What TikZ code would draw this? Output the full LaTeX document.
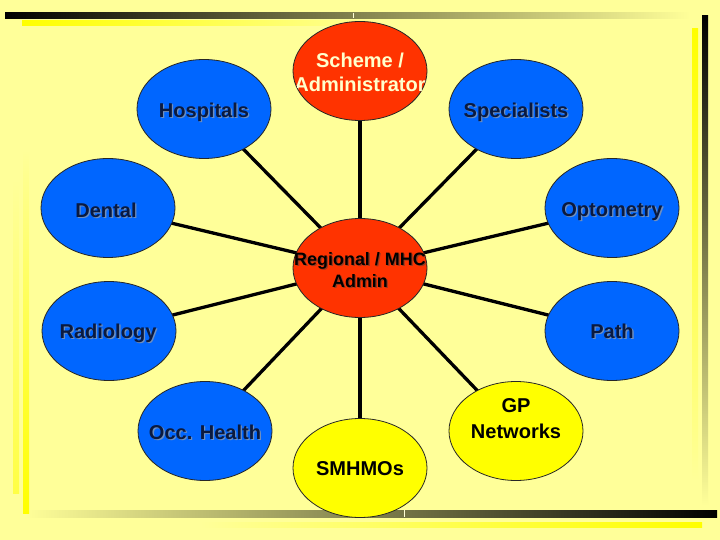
\documentclass[tikz,border=0pt]{standalone}
\usepackage{fontspec}
\setmainfont{Liberation Sans}
\usetikzlibrary{shapes.geometric,backgrounds}
\definecolor{bg}{HTML}{FFFF99}
\definecolor{myblue}{HTML}{0066FF}
\definecolor{myred}{HTML}{FF3300}
\definecolor{myyellow}{HTML}{FFFF00}
\definecolor{navy}{HTML}{0A1A40}
\definecolor{blueshadow}{HTML}{6F8FBF}
\definecolor{redshadow}{HTML}{9A3A20}
\definecolor{cream}{HTML}{FFFFCC}
\newcommand\shad[2]{\leavevmode\rlap{\kern1.3bp\raisebox{-1.3bp}{\color{#1}#2}}#2}
\tikzset{
  bubble/.style={ellipse, draw=black!85, line width=0.8bp, minimum width=134bp, minimum height=99bp, inner sep=0pt},
  bluebub/.style={bubble, fill=myblue},
  redbub/.style={bubble, fill=myred},
  yelbub/.style={bubble, fill=myyellow},
  lbl/.style={font=\bfseries\fontsize{20.1}{25}\selectfont, inner sep=0pt, anchor=base},
  bluelbl/.style={lbl, text=navy},
  smalllbl/.style={font=\bfseries\fontsize{18}{22}\selectfont, inner sep=0pt, anchor=base, text=black},
  spoke/.style={line width=3.3bp, black},
}
\begin{document}
\begin{tikzpicture}[x=1bp,y=-1bp]
\useasboundingbox (0,0) rectangle (720,540);
% bubbles
\node[redbub] (scheme) at (360,71) {};
\node[bluebub] (hosp) at (204,109) {};
\node[bluebub] (spec) at (516,109) {};
\node[bluebub] (dental) at (108,208) {};
\node[bluebub] (opto) at (612,208) {};
\node[redbub] (reg) at (360,268) {};
\node[bluebub] (radio) at (109,331) {};
\node[bluebub] (path) at (612,331) {};
\node[bluebub] (occ) at (205,431) {};
\node[yelbub] (gp) at (516,431) {};
\node[yelbub] (smh) at (360,468) {};
% texts
\begin{scope}
  \clip (360,71) ellipse [x radius=66.6, y radius=49.1];
  \node[lbl, text=cream] (schemeA) at (360,67.2) {Scheme /};
  \node[lbl, text=cream] (schemeB) at (360,91.2) {Administrator};
\end{scope}
\node[bluelbl] (hospT) at (204,117.2) {\shad{blueshadow}{Hospitals}};
\node[bluelbl] (specT) at (516,117.2) {\shad{blueshadow}{Specialists}};
\node[bluelbl] (dentalT) at (106,217.2) {\shad{blueshadow}{Dental}};
\node[bluelbl] (optoT) at (612,216.2) {\shad{blueshadow}{Optometry}};
\node[smalllbl] (regA) at (360,265.4) {\shad{redshadow}{Regional / MHC}};
\node[smalllbl] (regB) at (360,287.4) {\shad{redshadow}{Admin}};
\node[bluelbl] (radioT) at (108,338.2) {\shad{blueshadow}{Radiology}};
\node[bluelbl] (pathT) at (612,338.2) {\shad{blueshadow}{Path}};
\node[bluelbl] (occT) at (205,439.2) {\shad{blueshadow}{Occ. Health}};
\node[lbl, text=black] (gpA) at (516,412.2) {GP};
\node[lbl, text=black] (gpB) at (516,438.2) {Networks};
\node[lbl, text=black] (smhT) at (360,475.2) {SMHMOs};
\begin{scope}[on background layer]
  \fill[bg] (0,0) rectangle (720,540);
  % decorative bars
  \shade[left color=black, right color=bg] (5,13) rectangle (690,18.5);
  \fill[bg!40!white] (352.5,13) rectangle (353.6,18.5);
  \shade[left color=myyellow, middle color=myyellow!60!bg, right color=bg] (22,21) rectangle (380,26);
  \shade[top color=black, bottom color=bg] (702,16) rectangle (708,505);
  \shade[top color=myyellow, bottom color=bg] (692,29) rectangle (698,480);
  \shade[left color=bg, right color=black] (25,510) rectangle (717,517);
  \fill[bg!40!white] (403.5,510) rectangle (404.6,517);
  \shade[left color=bg, middle color=myyellow!60!bg, right color=myyellow] (200,522) rectangle (702,527);
  \shade[top color=bg, bottom color=myyellow!55!bg] (13,180) rectangle (19,493);
  \shade[top color=bg, bottom color=myyellow] (23,150) rectangle (29,513);
  % spokes
  \foreach \n in {scheme,hosp,spec,dental,opto,radio,path,occ,gp,smh}
    \draw[spoke] (reg.center) -- (\n.center);
\end{scope}
\end{tikzpicture}
\end{document}
